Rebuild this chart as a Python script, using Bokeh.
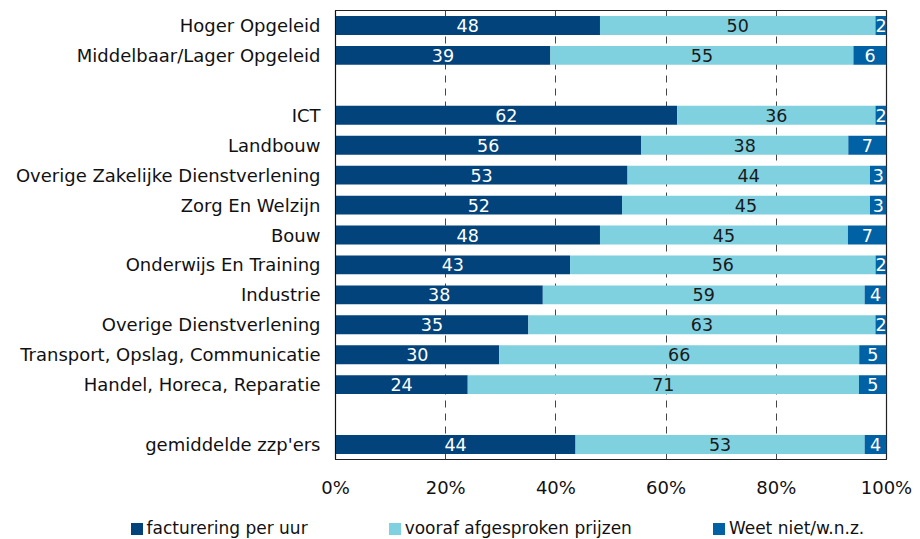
from bokeh.plotting import figure
from bokeh.models import ColumnDataSource, FactorRange, Legend, LegendItem, NumeralTickFormatter, FixedTicker
from bokeh.core.properties import value
from bokeh.embed import file_html
from bokeh.resources import INLINE

categories = ["Hoger Opgeleid", "Middelbaar/Lager Opgeleid", " ", "ICT", "Landbouw",
              "Overige Zakelijke Dienstverlening", "Zorg En Welzijn", "Bouw",
              "Onderwijs En Training", "Industrie", "Overige Dienstverlening",
              "Transport, Opslag, Communicatie", "Handel, Horeca, Reparatie", "  ",
              "gemiddelde zzp'ers"]
facturering = [48, 39, None, 62, 56, 53, 52, 48, 43, 38, 35, 30, 24, None, 44]
vooraf = [50, 55, None, 36, 38, 44, 45, 45, 56, 59, 63, 66, 71, None, 53]
weet_niet = [2, 6, None, 2, 7, 3, 3, 7, 2, 4, 2, 5, 5, None, 4]
series_names = ["facturering per uur", "vooraf afgesproken prijzen", "Weet niet/w.n.z."]
colors = ["#01437a", "#7fd1e0", "#0062a4"]
label_colors = ["#ffffff", "#1a1a1a", "#ffffff"]
x_ticks = [0, 0.2, 0.4, 0.6, 0.8, 1.0]

FONT = "DejaVu Sans"

p = figure(width=920, height=500, output_backend="svg", toolbar_location=None,
           y_range=FactorRange(factors=list(reversed(categories)), range_padding=0),
           x_range=(0, 1),
           min_border_left=335, min_border_right=34, min_border_top=10, min_border_bottom=40)
p.outline_line_color = "#222222"
p.outline_line_width = 1.2

series = [facturering, vooraf, weet_niet]
for si in range(3):
    ys, lefts, rights, mids, labels = [], [], [], [], []
    for i, cat in enumerate(categories):
        if series[0][i] is None:
            continue
        total = series[0][i] + series[1][i] + series[2][i]
        start = sum(series[k][i] for k in range(si)) / total
        end = start + series[si][i] / total
        ys.append(cat)
        lefts.append(start)
        rights.append(end)
        mids.append((start + end) / 2)
        labels.append(str(series[si][i]))
    src = ColumnDataSource(dict(y=ys, left=lefts, right=rights, mid=mids, label=labels))
    p.hbar(y="y", left="left", right="right", height=0.63, source=src,
           fill_color=colors[si], line_color=None)
    p.text(x="mid", y="y", text="label", source=src, text_align="center",
           text_baseline="middle", text_color=label_colors[si],
           text_font=value(FONT), text_font_size="17.5px")

p.xgrid.grid_line_color = "#444444"
p.xgrid.grid_line_dash = "7 6"
p.xgrid.grid_line_width = 1
p.ygrid.grid_line_color = None
p.xaxis.ticker = FixedTicker(ticks=x_ticks)
p.xaxis.formatter = NumeralTickFormatter(format="0%")
p.xaxis.axis_line_color = None
p.xaxis.major_tick_line_color = None
p.xaxis.minor_tick_line_color = None
p.xaxis.major_label_standoff = 11
p.xaxis.major_label_text_font = FONT
p.xaxis.major_label_text_font_size = "18px"
p.xaxis.major_label_text_color = "#111111"

p.yaxis.axis_line_color = "#111111"
p.yaxis.major_tick_line_color = None
p.yaxis.minor_tick_line_color = None
p.yaxis.major_label_standoff = 9
p.yaxis.major_label_text_font = FONT
p.yaxis.major_label_text_font_size = "18px"
p.yaxis.major_label_text_color = "#111111"

# legend strip below the chart (separate root, full-width frame)
lf = figure(width=920, height=39, output_backend="svg", toolbar_location=None,
            x_range=(0, 1), y_range=(0, 1), x_axis_location=None, y_axis_location=None,
            min_border=0, outline_line_color=None)
lf.xgrid.visible = False
lf.ygrid.visible = False
leg_renderers = []
for k in range(3):
    # zero-size proxy bars, only used to carry the legend swatch style
    leg_renderers.append(lf.hbar(y=[0], left=[0], right=[0], height=0,
                                 fill_color=colors[k], line_color=None))
legend = Legend(items=[LegendItem(label=series_names[k], renderers=[leg_renderers[k]]) for k in range(3)],
                orientation="horizontal", location=(128.5, 1),
                glyph_width=15, glyph_height=15, label_standoff=3, spacing=79,
                padding=0, margin=0, border_line_color=None, background_fill_alpha=0,
                label_text_font=FONT, label_text_font_size="17px", label_height=15,
                label_text_color="#111111")
lf.add_layout(legend, "center")

open("out.html", "w").write(file_html([p, lf], INLINE))
